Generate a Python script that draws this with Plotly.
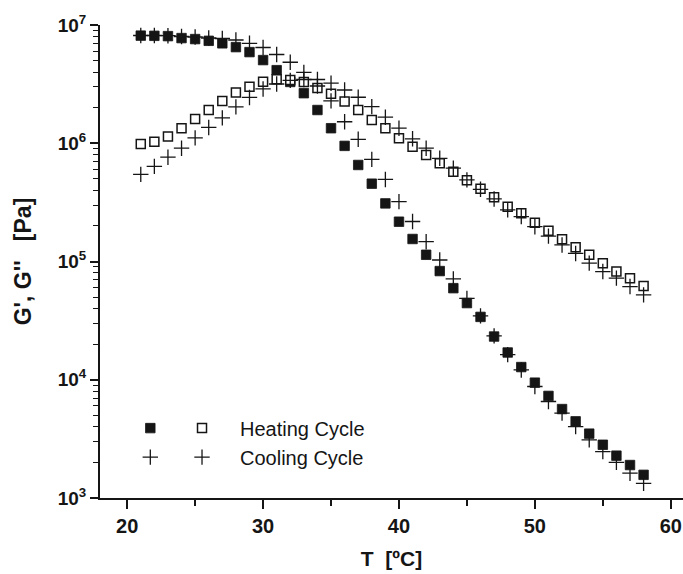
import plotly.graph_objects as go

T = list(range(21, 59))

heat_Gp = [8.13e6, 8.1e6, 8.05e6, 7.75e6, 7.6e6, 7.35e6, 7.0e6, 6.5e6, 5.9e6, 5.05e6,
           4.15e6, 3.3e6, 2.65e6, 1.91e6, 1.34e6, 9.5e5, 6.55e5, 4.55e5, 3.1e5, 2.17e5,
           1.55e5, 1.14e5, 8.3e4, 5.95e4, 4.45e4, 3.4e4, 2.32e4, 1.7e4, 1.28e4, 9.45e3,
           7.3e3, 5.65e3, 4.45e3, 3.5e3, 2.82e3, 2.28e3, 1.9e3, 1.57e3]

heat_Gpp = [9.87e5, 1.03e6, 1.14e6, 1.34e6, 1.60e6, 1.91e6, 2.28e6, 2.68e6, 3.01e6, 3.32e6,
            3.47e6, 3.43e6, 3.30e6, 2.93e6, 2.62e6, 2.25e6, 1.91e6, 1.57e6, 1.34e6, 1.10e6,
            9.36e5, 7.96e5, 6.77e5, 5.73e5, 4.87e5, 4.12e5, 3.50e5, 2.91e5, 2.56e5, 2.13e5,
            1.82e5, 1.54e5, 1.32e5, 1.14e5, 9.66e4, 8.22e4, 7.23e4, 6.22e4]

cool_Gp = [8.15e6, 8.15e6, 8.12e6, 7.99e6, 7.92e6, 7.76e6, 7.69e6, 7.47e6, 7.0e6, 6.45e6,
           5.63e6, 4.84e6, 3.97e6, 3.05e6, 2.28e6, 1.52e6, 1.08e6, 7.30e5, 4.94e5, 3.21e5,
           2.18e5, 1.47e5, 1.03e5, 7.13e4, 4.88e4, 3.47e4, 2.35e4, 1.63e4, 1.21e4, 8.77e3,
           6.55e3, 5.22e3, 4.02e3, 3.10e3, 2.47e3, 2.00e3, 1.62e3, 1.33e3]

cool_Gpp = [5.45e5, 6.37e5, 7.62e5, 9.08e5, 1.11e6, 1.36e6, 1.64e6, 2.03e6, 2.44e6, 2.88e6,
            3.17e6, 3.40e6, 3.46e6, 3.46e6, 3.22e6, 2.82e6, 2.45e6, 2.04e6, 1.66e6, 1.34e6,
            1.09e6, 9.08e5, 7.46e5, 6.15e5, 4.90e5, 4.08e5, 3.38e5, 2.73e5, 2.40e5, 1.97e5,
            1.64e5, 1.38e5, 1.17e5, 9.68e4, 8.22e4, 7.23e4, 6.14e4, 5.22e4]

x_ticks = [20, 30, 40, 50, 60]
y_tickvals = [1e3, 1e4, 1e5, 1e6, 1e7]
y_ticktext = ["10<sup>3</sup>", "10<sup>4</sup>", "10<sup>5</sup>", "10<sup>6</sup>", "10<sup>7</sup>"]

INK = "#151515"
FONT = "Liberation Sans, Arial, sans-serif"
fig = go.Figure()

fig.add_trace(go.Scatter(
    x=T, y=heat_Gp, mode="markers", name="", legend="legend", legendgroup="a",
    marker=dict(symbol="square", size=9.5, color=INK, line=dict(width=0.8, color=INK))))
fig.add_trace(go.Scatter(
    x=T, y=heat_Gpp, mode="markers", name="Heating Cycle", legend="legend2", legendgroup="b",
    marker=dict(symbol="square", size=9, color="white", line=dict(width=1.5, color=INK))))
fig.add_trace(go.Scatter(
    x=T, y=cool_Gp, mode="markers", name="", legend="legend", legendgroup="c",
    marker=dict(symbol="cross-thin", size=11, color=INK, line=dict(width=1.3, color=INK))))
fig.add_trace(go.Scatter(
    x=T, y=cool_Gpp, mode="markers", name="Cooling Cycle", legend="legend2", legendgroup="d",
    marker=dict(symbol="cross-thin", size=11, color=INK, line=dict(width=1.3, color=INK))))

legend_common = dict(
    font=dict(family=FONT, size=20, color=INK),
    bgcolor="rgba(0,0,0,0)", tracegroupgap=4, itemclick=False, itemdoubleclick=False,
    xanchor="left", yanchor="top", traceorder="normal")

fig.update_layout(
    width=683, height=574,
    margin=dict(l=100, r=0, t=25, b=76),
    paper_bgcolor="white", plot_bgcolor="white",
    showlegend=True,
    legend=dict(x=0.052, y=0.189, **legend_common),
    legend2=dict(x=0.1098, y=0.189, itemwidth=66, **legend_common),
    xaxis=dict(
        range=[18, 60.9], tickvals=x_ticks, ticks="outside", ticklen=9, tickwidth=1.5,
        tickcolor=INK, showline=True, linewidth=2, linecolor=INK, showgrid=False,
        zeroline=False,
        minor=dict(ticks="outside", ticklen=6, tickwidth=1.5, tickcolor=INK, dtick=5, tick0=15),
        tickfont=dict(family=FONT, size=20, color=INK, weight="bold"),
        title=dict(text="T  [ºC]", standoff=15,
                   font=dict(family=FONT, size=21, color=INK, weight="bold")),
    ),
    yaxis=dict(
        type="log", range=[3, 7], tickvals=y_tickvals, ticktext=y_ticktext,
        ticks="outside", ticklen=8, tickwidth=1.5, tickcolor=INK,
        showline=True, linewidth=2, linecolor=INK, showgrid=False, zeroline=False,
        minor=dict(ticks="outside", ticklen=5, tickwidth=1.2, tickcolor=INK, dtick="D1"),
        tickfont=dict(family=FONT, size=19, color=INK, weight="bold"),
        title=dict(text="G', G''   [Pa]", standoff=20,
                   font=dict(family=FONT, size=23, color=INK, weight="bold")),
    ),
)

fig.write_html("out.html")
